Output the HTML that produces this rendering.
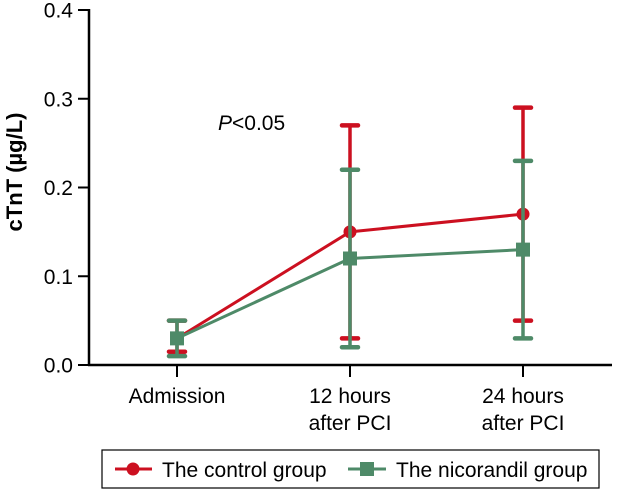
<!DOCTYPE html>
<html><head><meta charset="utf-8"><style>
body{margin:0;background:#fff}
svg{display:block;font-family:"Liberation Sans",Arial,sans-serif}
</style></head><body>
<svg id="c" width="634" height="491"></svg>
<script>
const categories=[["Admission"],["12 hours","after PCI"],["24 hours","after PCI"]];
const controlMean=[0.03,0.15,0.17];
const controlLow=[0.015,0.03,0.05];
const controlHigh=[0.05,0.27,0.29];
const nicoMean=[0.03,0.12,0.13];
const nicoLow=[0.01,0.02,0.03];
const nicoHigh=[0.05,0.22,0.23];
const yTicks=[0,0.1,0.2,0.3,0.4];
const NS="http://www.w3.org/2000/svg";
const svg=document.getElementById('c');
const y=v=>365-v*887.5;
const xs=[177,350,523];
const x=i=>xs[i];
function mk(t,a,p){const e=document.createElementNS(NS,t);for(const k in a)e.setAttribute(k,a[k]);(p||svg).appendChild(e);return e;}
let e;
e=mk('line',{x1:89,y1:9,x2:89,y2:366,stroke:'#000','stroke-width':2.5});


e=mk('line',{x1:88,y1:365,x2:612,y2:365,stroke:'#000','stroke-width':2.5});


yTicks.forEach(v=>{
 e=mk('line',{x1:78,y1:y(v),x2:89,y2:y(v),stroke:'#000','stroke-width':2});
 
 
 e=mk('text',{x:73,y:y(v)+7.5,'text-anchor':'end','font-size':21,fill:'#000'});
 e.textContent=v.toFixed(1);
 
 
});
categories.forEach((c,i)=>{
 e=mk('line',{x1:x(i),y1:365,x2:x(i),y2:377,stroke:'#000','stroke-width':2});
 
 
 e=mk('text',{x:x(i),y:403,'text-anchor':'middle','font-size':21,fill:'#000'});
 
 
 c.forEach((l,j)=>{const t=mk('tspan',{x:x(i),dy:j?27:0},e);t.textContent=l;});
});
e=mk('text',{x:0,y:0,transform:'translate(22,172) rotate(-90)','text-anchor':'middle','font-size':22,'font-weight':'bold',fill:'#000'});
e.textContent='cTnT (µg/L)';


e=mk('text',{x:218,y:130,'font-size':21,fill:'#000'});
e.innerHTML='<tspan font-style="italic">P</tspan>&lt;0.05';


function series(mean,lo,hi,col,sq,name){
 const g=mk('g',{});
 
 
 mean.forEach((v,i)=>{
  e=mk('line',{x1:x(i),y1:y(lo[i]),x2:x(i),y2:y(hi[i]),stroke:col,'stroke-width':3.5},g);
  
  
  [lo[i],hi[i]].forEach(b=>{
   e=mk('line',{x1:x(i)-8,y1:y(b),x2:x(i)+8,y2:y(b),stroke:col,'stroke-width':4.5,'stroke-linecap':'round'},g);
   
   
  });
 });
 e=mk('polyline',{points:mean.map((v,i)=>x(i)+','+y(v)).join(' '),fill:'none',stroke:col,'stroke-width':3},g);
 
 
 mean.forEach((v,i)=>{
  e=sq?mk('rect',{x:x(i)-7,y:y(v)-7,width:14,height:14,fill:col},g):mk('circle',{cx:x(i),cy:y(v),r:6.5,fill:col},g);
  
  
 });
}
series(controlMean,controlLow,controlHigh,'#cc1020',false,'control');
series(nicoMean,nicoLow,nicoHigh,'#4e8a68',true,'nicorandil');
const lg=mk('g',{});


mk('rect',{x:102,y:450,width:497,height:38,fill:'#fff',stroke:'#000','stroke-width':1.2},lg);
mk('line',{x1:115,y1:469,x2:152,y2:469,stroke:'#cc1020','stroke-width':3},lg);
mk('circle',{cx:133,cy:469,r:6.5,fill:'#cc1020'},lg);
e=mk('text',{x:162,y:477,'font-size':21,fill:'#000'},lg);e.textContent='The control group';


mk('line',{x1:348,y1:469,x2:386,y2:469,stroke:'#4e8a68','stroke-width':3},lg);
mk('rect',{x:360,y:462,width:14,height:14,fill:'#4e8a68'},lg);
e=mk('text',{x:396,y:477,'font-size':21,fill:'#000'},lg);e.textContent='The nicorandil group';


</script>
</body></html>
